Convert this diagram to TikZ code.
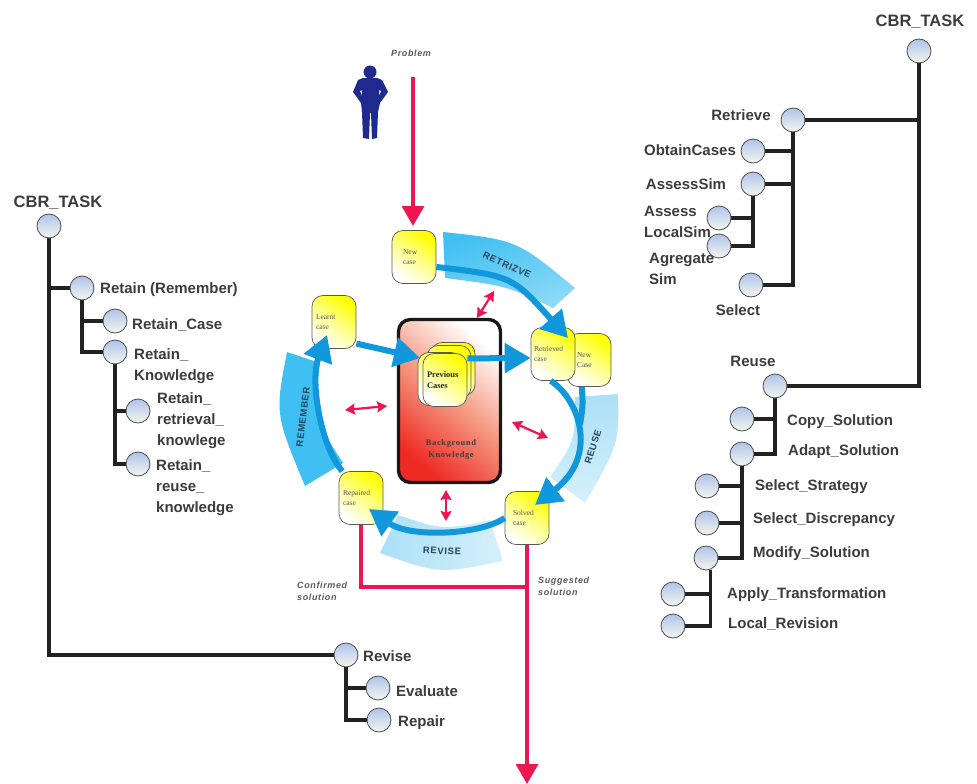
\documentclass[tikz,border=0pt]{standalone}
\usepackage{fontspec}
\setmainfont{Liberation Sans}
\newfontfamily\casefont{Liberation Serif}
\newfontfamily\spacedfont[LetterSpace=7]{Liberation Sans}
\newfontfamily\spacedserif[LetterSpace=7]{Liberation Serif}
\usetikzlibrary{arrows.meta}
\definecolor{treeline}{HTML}{222222}
\definecolor{treetext}{HTML}{3C3C3C}
\definecolor{nodetop}{HTML}{AFC3E8}
\definecolor{nodebottom}{HTML}{F4F7F0}
\definecolor{flowblue}{HTML}{1097DC}
\definecolor{flowpink}{HTML}{EE1550}
\definecolor{figureblue}{HTML}{1F2A8F}
\definecolor{bandtext}{HTML}{24465E}
\definecolor{bandstrong}{HTML}{40C0F2}
\definecolor{bandmid}{HTML}{8CD9F6}
\definecolor{bandlight}{HTML}{ABE0F6}
\definecolor{bandpale}{HTML}{D6F0FB}
\definecolor{knowledgemid}{HTML}{F4977F}
\definecolor{knowledgelow}{HTML}{EE2A24}
\begin{document}
\begin{tikzpicture}[
    x=1pt, y=-1pt,
    treenode/.style={circle, minimum size=24pt, inner sep=0pt, draw=black!70, line width=0.8pt, top color=nodetop, bottom color=nodebottom},
    branch/.style={line width=3.4pt, color=treeline},
    tasktext/.style={font=\fontsize{15}{21}\selectfont\bfseries, text=treetext, align=left, anchor=west, inner sep=0pt},
    casebox/.style={rectangle, rounded corners=11pt, draw=black!65, line width=0.7pt, top color=yellow, bottom color=white, middle color=yellow!45!white, shading angle=-35, minimum height=53pt, inner xsep=#1pt, inner ysep=0pt, text width=44pt-2*#1pt, align=left, font=\casefont\fontsize{7.5}{10}\selectfont, text=black!65},
    bandtext/.style={font=\spacedfont\fontsize{9.5}{11}\selectfont\bfseries, text=bandtext, inner sep=0pt},
    cycleline/.style={line width=6pt, color=flowblue},
    cycle/.style={cycleline, -{Triangle[length=26pt,width=29pt]}},
    exchange/.style={{Stealth[length=10pt,width=11pt,inset=1.5pt]}-{Stealth[length=10pt,width=11pt,inset=1.5pt]}, line width=2.2pt, color=flowpink},
    flow/.style={line width=3.6pt, color=flowpink},
    flowend/.style={flow, -{Triangle[length=20pt,width=22pt]}},
    note/.style={font=\spacedfont\fontsize{9}{12}\selectfont\bfseries\itshape, text=black!65, align=left, anchor=west, inner sep=0pt}
]
    \useasboundingbox (0,0) rectangle (977,784);

    \fill[figureblue, even odd rule] (370,72) circle (6.5)
        (363,78) -- (377,78) -- (382,80) -- (388,92) -- (380,103) -- (378,112) -- (377,138) -- (372,139) -- (371,113) -- (370,113) -- (369,139) -- (363,138) -- (362,112) -- (361,103) -- (353,92) -- (358,80) -- cycle
        (360,91) -- (362,90) -- (362,96) -- cycle
        (379,90) -- (381,91) -- (379,96) -- cycle;

    \shade[left color=bandstrong, right color=bandmid, shading angle=20] (443,232) .. controls (517,240) .. (575,288) -- (553,308) .. controls (507,286) .. (445,278) -- cycle;
    \shade[top color=bandlight, bottom color=bandpale] (618,394) .. controls (619,444) .. (585,503) -- (550,477) .. controls (575,441) .. (575,397) -- cycle;
    \shade[left color=bandlight, right color=bandpale] (380,553) .. controls (439,574) .. (503,561) -- (490,520) .. controls (443,530) .. (398,515) -- cycle;
    \fill[bandstrong] (287,352) .. controls (275,414) .. (305,486) -- (343,463) .. controls (313,416) .. (320,363) -- cycle;

    \node[bandtext, rotate=-24] (retrievetext) at (507,265) {RETRIZVE};
    \node[bandtext, rotate=72] (reusetext) at (593,447) {REUSE};
    \node[bandtext, rotate=-2] (revisetext) at (442,551) {REVISE};
    \node[bandtext, rotate=83] (remembertext) at (303,417) {REMEMBER};

    \node[rectangle, rounded corners=12pt, draw=black!90, line width=3.4pt, minimum width=102pt, minimum height=163pt, top color=white, bottom color=knowledgelow, middle color=knowledgemid, shading angle=-40] (knowledge) at (449.5,401) {};
    \node[font=\spacedserif\fontsize{8.5}{12}\selectfont\bfseries, text=black!75, align=center, inner sep=0pt] (knowledgetext) at (451,449) {Background\\Knowledge};

    \node[casebox=11] (newcase) at (414,257) {New\\case};
    \node[casebox=4] (learnt) at (334,322) {Learnt\\case};
    \node[casebox=10] (newcaseb) at (589,360) {New\\Case};
    \node[casebox=3] (retrieved) at (553,354) {Retrieved\\case};
    \node[casebox=4] (repaired) at (361,498) {Repaired\\case\\[6pt]};
    \node[casebox=8] (solved) at (527,518) {Solved\\case};

    \node[casebox=2] (prevd) at (453,369) {};
    \node[casebox=2] (prevc) at (449,372) {};
    \node[casebox=2] (prevb) at (440,379) {};
    \node[casebox=4, font=\casefont\fontsize{8.5}{10.5}\selectfont\bfseries, text=black!85] (previous) at (445,380) {Previous\\Cases\\[8pt]};

    \coordinate (retrievedtip) at (568,338);
    \coordinate (solvedtip) at (535,505);
    \coordinate (repairedtip) at (369,509);
    \coordinate (learnttip) at (327,335);
    \coordinate (previoustip) at (420,358);
    \coordinate (reusejoin) at (580,425);

    \draw[cycle] (newcase.-24) .. controls (512,276) .. (retrievedtip);
    \draw[cycleline] (newcaseb.-105) .. controls (583,405) .. (reusejoin);
    \draw[cycle] (retrieved.-95) .. controls (578,398) and (600,455) .. (solvedtip);
    \draw[cycle] (solved.west) .. controls (480,535) and (410,538) .. (repairedtip);
    \draw[cycle] (repaired.125) .. controls (320,445) and (310,380) .. (learnttip);
    \draw[cycle] (learnt.-44) -- (previoustip);
    \draw[cycle] (previous.44) -- (retrieved.-170);

    \coordinate (exa) at (477,318);
    \coordinate (exb) at (494,291);
    \coordinate (exc) at (345,410);
    \coordinate (exd) at (387,406);
    \coordinate (exe) at (512,422);
    \coordinate (exf) at (548,438);
    \coordinate (exg) at (446,490);
    \coordinate (exh) at (446,521);
    \draw[exchange] (exa) -- (exb);
    \draw[exchange] (exc) -- (exd);
    \draw[exchange] (exe) -- (exf);
    \draw[exchange] (exg) -- (exh);

    \coordinate (problemstart) at (413,77);
    \coordinate (problemtip) at (413,226);
    \coordinate (outcorner) at (527,587);
    \coordinate (outtip) at (527,784);
    \draw[flowend] (problemstart) -- (problemtip);
    \draw[flow] (repaired.south) |- (outcorner);
    \draw[flowend] (solved.south) -- (outtip);

    \node[note] (problem) at (391,53) {Problem};
    \node[note] (confirmed) at (297,591) {Confirmed\\solution};
    \node[note] (suggested) at (538,586) {Suggested\\solution};

    \node[treenode] (taskleft) at (49,226) {};
    \node[treenode] (retain) at (82,288) {};
    \node[treenode] (retaincase) at (115,321) {};
    \node[treenode] (retainknowledge) at (115,352) {};
    \node[treenode] (retainretrieval) at (138,411) {};
    \node[treenode] (retainreuse) at (138,464) {};
    \node[treenode] (revise) at (346,655) {};
    \node[treenode] (evaluate) at (378,688) {};
    \node[treenode] (repair) at (379,720) {};

    \draw[branch] (taskleft) |- (retain);
    \draw[branch] (taskleft) |- (revise);
    \draw[branch] (retain) |- (retaincase);
    \draw[branch] (retain) |- (retainknowledge);
    \draw[branch] (retainknowledge) |- (retainretrieval);
    \draw[branch] (retainknowledge) |- (retainreuse);
    \draw[branch] (revise) |- (evaluate);
    \draw[branch] (revise) |- (repair);

    \node[tasktext, font=\fontsize{16.5}{20}\selectfont\bfseries, anchor=center] (tasklefttext) at (58,203) {CBR\_TASK};
    \node[tasktext] (retaintext) at (100,290) {Retain (Remember)};
    \node[tasktext] (retaincasetext) at (132,325) {Retain\_Case};
    \node[tasktext] (retainknowledgetext) at (134,366) {Retain\_\\Knowledge};
    \node[tasktext] (retainretrievaltext) at (157,421) {Retain\_\\retrieval\_\\knowlege};
    \node[tasktext] (retainreusetext) at (156,488) {Retain\_\\reuse\_\\knowledge};
    \node[tasktext] (revisetreetext) at (363,656) {Revise};
    \node[tasktext] (evaluatetext) at (396,691) {Evaluate};
    \node[tasktext] (repairtext) at (398,723) {Repair};

    \node[treenode] (taskright) at (919,51) {};
    \node[treenode] (retrieve) at (793,120) {};
    \node[treenode] (obtaincases) at (753,151) {};
    \node[treenode] (assesssim) at (753,184) {};
    \node[treenode] (assesslocal) at (719,218) {};
    \node[treenode] (agregate) at (719,246) {};
    \node[treenode] (selectcase) at (751,285) {};
    \node[treenode] (reuse) at (775,386) {};
    \node[treenode] (copysolution) at (742,419) {};
    \node[treenode] (adaptsolution) at (742,454) {};
    \node[treenode] (selectstrategy) at (707,486) {};
    \node[treenode] (selectdiscrepancy) at (707,523) {};
    \node[treenode] (modifysolution) at (706,558) {};
    \node[treenode] (applytransformation) at (673,594) {};
    \node[treenode] (localrevision) at (673,626) {};

    \draw[branch] (taskright) |- (retrieve);
    \draw[branch] (taskright) |- (reuse);
    \draw[branch] (retrieve) |- (obtaincases);
    \draw[branch] (retrieve) |- (assesssim);
    \draw[branch] (retrieve) |- (selectcase);
    \draw[branch] (assesssim) |- (assesslocal);
    \draw[branch] (assesssim) |- (agregate);
    \draw[branch] (reuse) |- (copysolution);
    \draw[branch] (reuse) |- (adaptsolution);
    \draw[branch] (adaptsolution) |- (selectstrategy);
    \draw[branch] (adaptsolution) |- (selectdiscrepancy);
    \draw[branch] (adaptsolution) |- (modifysolution);
    \draw[branch] (modifysolution.-68) |- (applytransformation);
    \draw[branch] (modifysolution.-68) |- (localrevision);

    \node[tasktext, font=\fontsize{16.5}{20}\selectfont\bfseries, anchor=center] (taskrighttext) at (920,22) {CBR\_TASK};
    \node[tasktext, anchor=center] (retrievetreetext) at (741,115) {Retrieve};
    \node[tasktext, anchor=center] (obtaincasestext) at (690,150) {ObtainCases};
    \node[tasktext, anchor=center] (assesssimtext) at (686,184) {AssessSim};
    \node[tasktext] (assesslocaltext) at (644,222) {Assess\\LocalSim};
    \node[tasktext] (agregatetext) at (649,269) {Agregate\\Sim};
    \node[tasktext, anchor=center] (selectcasetext) at (738,310) {Select};
    \node[tasktext, anchor=center] (reusetreetext) at (753,361) {Reuse};
    \node[tasktext] (copysolutiontext) at (787,422) {Copy\_Solution};
    \node[tasktext] (adaptsolutiontext) at (788,452) {Adapt\_Solution};
    \node[tasktext] (selectstrategytext) at (755,487) {Select\_Strategy};
    \node[tasktext] (selectdiscrepancytext) at (753,520) {Select\_Discrepancy};
    \node[tasktext] (modifysolutiontext) at (753,554) {Modify\_Solution};
    \node[tasktext] (applytransformationtext) at (727,595) {Apply\_Transformation};
    \node[tasktext] (localrevisiontext) at (728,624) {Local\_Revision};
\end{tikzpicture}
\end{document}
